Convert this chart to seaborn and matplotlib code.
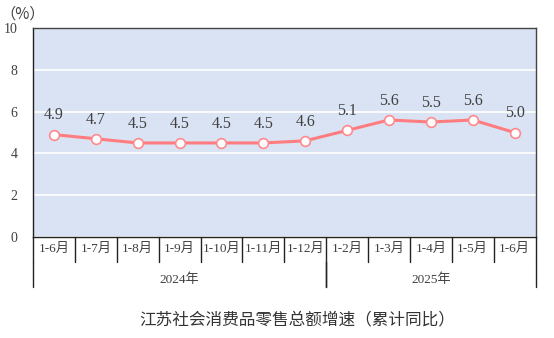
import matplotlib
matplotlib.use("Agg")
import matplotlib.pyplot as plt
import matplotlib.transforms as mtransforms
import seaborn as sns
import pandas as pd

months = ["1-6月", "1-7月", "1-8月", "1-9月", "1-10月", "1-11月", "1-12月",
          "1-2月", "1-3月", "1-4月", "1-5月", "1-6月"]
years = ["2024年", "2025年"]
year_counts = [7, 5]
growth = [4.9, 4.7, 4.5, 4.5, 4.5, 4.5, 4.6, 5.1, 5.6, 5.5, 5.6, 5.0]
yticks = [0, 2, 4, 6, 8, 10]
title = "江苏社会消费品零售总额增速（累计同比）"
unit = "（%）"

sns.set_theme(style="white")
plt.rcParams['font.family'] = ['Liberation Serif', 'Noto Sans CJK SC', 'DejaVu Sans']

df = pd.DataFrame({"idx": list(range(len(growth))), "growth": growth})

fig = plt.figure(figsize=(5.54, 3.38), dpi=100)
ax = fig.add_axes([33 / 554, 1 - 237 / 338, (535.5 - 33) / 554, (237 - 28) / 338])
ax.set_facecolor("#DAE3F3")

sns.lineplot(data=df, x="idx", y="growth", ax=ax, color="#FF7C80", linewidth=2.2,
             marker="o", markersize=7, markerfacecolor="white",
             markeredgecolor="#FF8A8E", markeredgewidth=1.2, zorder=3)

for i, v in enumerate(growth):
    ax.annotate(f"{v:.1f}", (i, v), xytext=(0, 8), textcoords="offset points",
                ha="center", va="bottom", fontsize=11.5, color="#404040")

ax.set_xlim(-0.5, len(growth) - 0.5)
ax.set_ylim(0, 10)
ax.set_yticks(yticks)
ax.set_yticklabels([str(t) for t in yticks], fontsize=10, color="#404040")
ax.tick_params(axis="y", length=0, pad=11)
ax.yaxis.grid(True, color="white", linewidth=1.2)
ax.set_axisbelow(True)
ax.set_xticks([])
ax.set_xlabel("")
ax.set_ylabel("")

for s in ["left", "bottom"]:
    ax.spines[s].set_color("#222222")
    ax.spines[s].set_linewidth(1.0)
for s in ["top", "right"]:
    ax.spines[s].set_color("#444444")
    ax.spines[s].set_linewidth(1.0)

# multi-level category axis
trans = mtransforms.blended_transform_factory(ax.transData, ax.transAxes)
ax_h = (237 - 28)
lvl1 = -(262 - 237) / ax_h
lvl2 = -(287 - 237) / ax_h
n = len(months)
for k in range(n + 1):
    x = k - 0.5
    ax.plot([x, x], [0, lvl1], transform=trans, color="#222222", lw=1.0, clip_on=False)
for i, m in enumerate(months):
    ax.text(i, -(249 - 237) / ax_h, m, transform=trans, ha="center", va="center",
            fontsize=9.5, color="#404040")
start = 0
for y, c in zip(years, year_counts):
    for x in (start - 0.5, start + c - 0.5):
        ax.plot([x, x], [lvl1, lvl2], transform=trans, color="#222222", lw=1.0, clip_on=False)
    ax.text(start + (c - 1) / 2, -(280 - 237) / ax_h, y, transform=trans, ha="center",
            va="center", fontsize=9.5, color="#404040")
    start += c

fig.text(0 / 554, 1 - 14 / 338, unit, ha="left", va="center", fontsize=11,
         color="#404040", family=['Noto Sans CJK SC', 'DejaVu Sans'])
fig.text(297 / 554, 1 - 320 / 338, title, ha="center", va="center", fontsize=12,
         color="#333333")

fig.savefig("out.png", dpi=100, facecolor="white")
